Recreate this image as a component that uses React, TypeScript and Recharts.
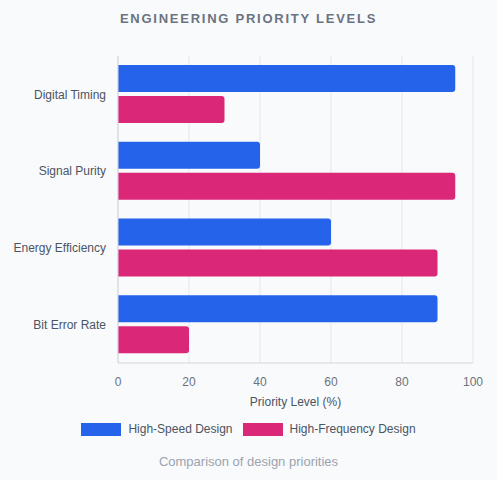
import React from "react";
import { BarChart, Bar, XAxis, YAxis, CartesianGrid } from "recharts";

const categories = ["Digital Timing", "Signal Purity", "Energy Efficiency", "Bit Error Rate"];
const highSpeed = [95, 40, 60, 90];
const highFrequency = [30, 95, 90, 20];
const xTicks = [0, 20, 40, 60, 80, 100];
const seriesNames = ["High-Speed Design", "High-Frequency Design"];
const seriesColors = ["#2563eb", "#db2777"];

const data = categories.map((c, i) => ({ name: c, hs: highSpeed[i], hf: highFrequency[i] }));

const font = "'Liberation Sans', Arial, sans-serif";

export default function App() {
  return (
    <div style={{ position: "absolute", left: 0, top: 0, width: 497, height: 480, background: "#f8fafc", fontFamily: font }}>
      <div style={{ position: "absolute", top: 11, left: 0, width: 497, textAlign: "center", fontSize: 13, fontWeight: 700, letterSpacing: 1.75, color: "#6b7280" }}>
        ENGINEERING PRIORITY LEVELS
      </div>
      <BarChart
        width={497}
        height={420}
        data={data}
        layout="vertical"
        margin={{ top: 56, right: 24, bottom: 12, left: 0 }}
        barSize={27}
        barGap={4}
        style={{ position: "absolute", top: 0, left: 0 }}
      >
        <CartesianGrid horizontal={false} stroke="#e5e7eb" />
        <XAxis
          type="number"
          domain={[0, 100]}
          ticks={xTicks}
          tickLine={false}
          axisLine={{ stroke: "#d1d5db" }}
          tickMargin={8}
          tick={{ fill: "#6b7280", fontSize: 12, fontFamily: font }}
          height={45}
          label={{ value: "Priority Level (%)", position: "insideBottom", offset: 2, fill: "#4b5563", fontSize: 12, fontFamily: font }}
        />
        <YAxis
          type="category"
          dataKey="name"
          width={118}
          tickLine={false}
          axisLine={{ stroke: "#d1d5db" }}
          tickMargin={6}
          tick={{ fill: "#4b5563", fontSize: 12, fontFamily: font }}
        />
        <Bar dataKey="hs" name={seriesNames[0]} fill={seriesColors[0]} radius={[0, 3, 3, 0]} isAnimationActive={false} />
        <Bar dataKey="hf" name={seriesNames[1]} fill={seriesColors[1]} radius={[0, 3, 3, 0]} isAnimationActive={false} />
      </BarChart>
      <div style={{ position: "absolute", top: 422, left: 0, width: 497, display: "flex", justifyContent: "center", alignItems: "center", fontSize: 12, color: "#4b5563" }}>
        {seriesNames.map((n, i) => (
          <div key={n} style={{ display: "flex", alignItems: "center", marginLeft: i === 0 ? 0 : 10 }}>
            <span style={{ display: "inline-block", width: 40, height: 13, background: seriesColors[i], marginRight: 7 }} />
            <span>{n}</span>
          </div>
        ))}
      </div>
      <div style={{ position: "absolute", top: 454, left: 0, width: 497, textAlign: "center", fontSize: 13, color: "#9ca3af" }}>
        Comparison of design priorities
      </div>
    </div>
  );
}
